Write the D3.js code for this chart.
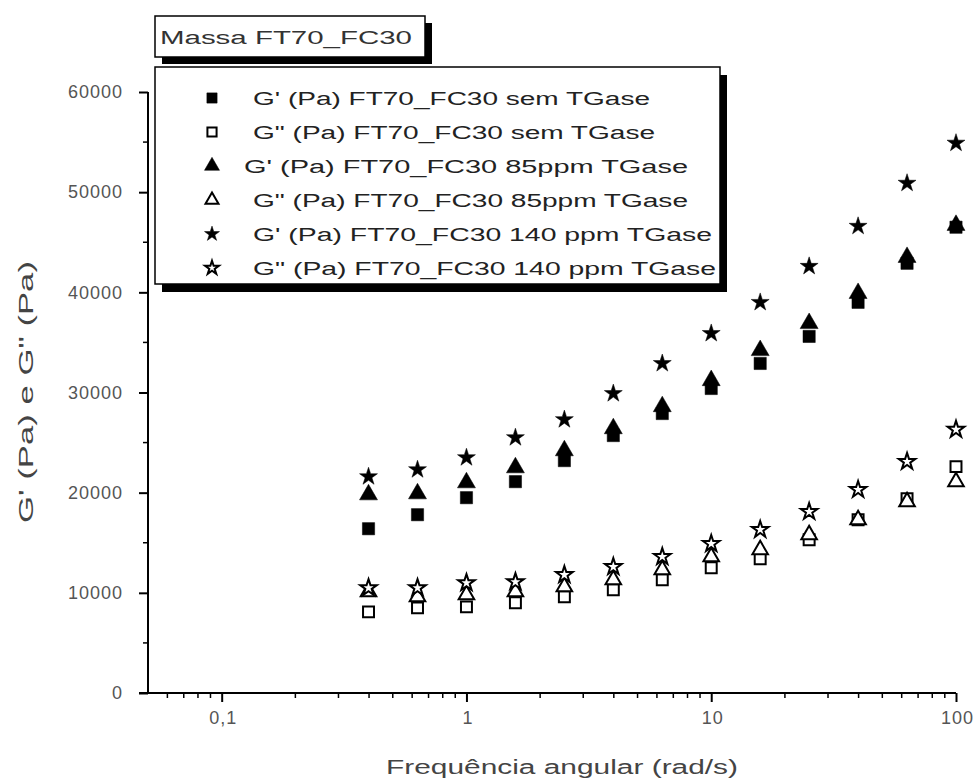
<!DOCTYPE html>
<html><head><meta charset="utf-8">
<script src="https://cdn.jsdelivr.net/npm/d3@7"></script>
<style>body{margin:0;background:#fff}svg{display:block}text{font-family:"Liberation Sans",Arial,sans-serif}</style>
</head><body><div id="chart"></div>
<script>
// ---- data ----
const freq     = [0.398, 0.631, 1, 1.585, 2.512, 3.981, 6.31, 10, 15.85, 25.12, 39.81, 63.1, 100];
const gpSem    = [16400, 17800, 19500, 21100, 23200, 25700, 27900, 30400, 32900, 35600, 39000, 42900, 46500];
const gppSem   = [8100, 8500, 8600, 9000, 9600, 10300, 11300, 12500, 13400, 15300, 17300, 19400, 22600];
const gp85     = [19800, 19900, 21000, 22500, 24200, 26400, 28600, 31200, 34200, 36900, 39900, 43500, 46700];
const gpp85    = [10100, 9600, 9800, 10100, 10600, 11300, 12300, 13600, 14300, 15800, 17300, 19100, 21100];
const gp140    = [21600, 22300, 23500, 25500, 27300, 29900, 32900, 35900, 39000, 42600, 46600, 50900, 54900];
const gpp140   = [10500, 10500, 11000, 11100, 11800, 12600, 13600, 14900, 16300, 18100, 20300, 23100, 26300];
const seriesNames = [
  "G' (Pa) FT70_FC30 sem TGase",
  'G" (Pa) FT70_FC30 sem TGase',
  "G' (Pa) FT70_FC30 85ppm TGase",
  'G" (Pa) FT70_FC30 85ppm TGase',
  "G' (Pa) FT70_FC30 140 ppm TGase",
  'G" (Pa) FT70_FC30 140 ppm TGase'
];
const seriesValues = [gpSem, gppSem, gp85, gpp85, gp140, gpp140];
const xTickValues = [0.1, 1, 10, 100];
const xTickLabels = ["0,1", "1", "10", "100"];
const yTickValues = [0, 10000, 20000, 30000, 40000, 50000, 60000];
const legendTitle = "Massa FT70_FC30";
const xTitle = "Frequência angular (rad/s)";
const yTitle = 'G\' (Pa) e G" (Pa)';

// ---- styles / layout ----
const W = 978, H = 783;
const shapes = [d3.symbolSquare, d3.symbolSquare, d3.symbolTriangle, d3.symbolTriangle, d3.symbolStar, d3.symbolStar];
const filled = [true, false, true, false, true, false];
const sizes  = [150, 120, 140, 105, 100, 85];

const svg = d3.select("#chart").append("svg").attr("width", W).attr("height", H);

const x = d3.scaleLog().domain([0.05, 100]).range([148, 956]);
const y = d3.scaleLinear().domain([0, 60000]).range([693, 92]);

// axes
const xAxis = d3.axisBottom(x)
  .tickValues(xTickValues).tickSize(9).tickFormat((d, i) => xTickLabels[i]);
const gx = svg.append("g").attr("transform", "translate(0,693)").call(xAxis);
gx.select(".domain").attr("d", `M${x.range()[0] - 9},0H${x.range()[1]}`);
// minor ticks
const minorX = [];
for (let e = -2; e <= 1; e++) for (let m = 2; m <= 9; m++) {
  const v = m * Math.pow(10, e);
  if (v > 0.05 && v < 100) minorX.push(v);
}
gx.selectAll(".minor").data(minorX).enter().append("line").attr("class", "minor")
  .attr("x1", d => x(d)).attr("x2", d => x(d)).attr("y1", 0).attr("y2", 5)
  .attr("stroke", "#000").attr("stroke-width", 1.5);

const yAxis = d3.axisLeft(y).tickValues(yTickValues).tickSize(9).tickFormat(d3.format("d"));
const gy = svg.append("g").attr("transform", "translate(148,0)").call(yAxis);
gy.select(".domain").attr("d", `M0,${y(60000)}V${y(0)}`);
gy.selectAll(".minor").data(d3.range(5000, 60000, 10000)).enter().append("line").attr("class", "minor")
  .attr("x1", 0).attr("x2", -5).attr("y1", d => y(d)).attr("y2", d => y(d))
  .attr("stroke", "#000").attr("stroke-width", 1.5);

[gx, gy].forEach(g => {
  g.attr("font-size", 18);
  g.select(".domain").attr("stroke", "#000").attr("stroke-width", 2);
  g.selectAll(".tick line").attr("stroke", "#000").attr("stroke-width", 2);
  g.selectAll(".tick text").attr("fill", "#555").style("font-size", "18px")
    .style("letter-spacing", "1px").attr("font-family", '"Liberation Sans",Arial,sans-serif');
});
gx.selectAll(".tick text").attr("y", 18).attr("dx", "1px");
gy.selectAll(".tick text").attr("x", -25);

// axis titles
svg.append("text").attr("x", 562).attr("y", 774).attr("text-anchor", "middle")
  .attr("font-size", 20).attr("fill", "#444").attr("textLength", 352).attr("lengthAdjust", "spacingAndGlyphs")
  .text(xTitle);
svg.append("text").attr("transform", "translate(33,392) rotate(-90)").attr("text-anchor", "middle")
  .attr("font-size", 20).attr("fill", "#444").attr("textLength", 262).attr("lengthAdjust", "spacingAndGlyphs")
  .text(yTitle);

// data points
const symGen = d3.symbol();
seriesValues.forEach((vals, si) => {
  svg.append("g").selectAll("path").data(vals).enter().append("path")
    .attr("transform", (d, i) => `translate(${x(freq[i])},${y(d)})`)
    .attr("d", symGen.type(shapes[si]).size(sizes[si])())
    .attr("fill", filled[si] ? "#000" : "#fff")
    .attr("stroke", "#000").attr("stroke-width", filled[si] ? 0.5 : 2);
});

// legend title box
const tb = {x: 155, y: 16, w: 270, h: 41};
svg.append("rect").attr("x", tb.x + 7).attr("y", tb.y + 7).attr("width", tb.w).attr("height", tb.h).attr("fill", "#000");
svg.append("rect").attr("x", tb.x).attr("y", tb.y).attr("width", tb.w).attr("height", tb.h)
  .attr("fill", "#fff").attr("stroke", "#000").attr("stroke-width", 1.5);
svg.append("text").attr("x", 160).attr("y", 44).attr("font-size", 18).attr("fill", "#333")
  .attr("textLength", 252).attr("lengthAdjust", "spacingAndGlyphs").text(legendTitle);

// legend box
const lb = {x: 155, y: 67, w: 565, h: 217};
svg.append("rect").attr("x", lb.x + 7).attr("y", lb.y + 8).attr("width", lb.w).attr("height", lb.h).attr("fill", "#000");
svg.append("rect").attr("x", lb.x).attr("y", lb.y).attr("width", lb.w).attr("height", lb.h)
  .attr("fill", "#fff").attr("stroke", "#000").attr("stroke-width", 1.5);
const rowY = [98, 132, 166, 200, 234, 268];
const textX = [253, 253, 244, 253, 253, 253];
const textW = [397, 402, 444, 435, 459, 463];
seriesNames.forEach((name, si) => {
  svg.append("path").attr("transform", `translate(212,${rowY[si]})`)
    .attr("d", d3.symbol().type(shapes[si]).size(sizes[si] * 0.7)())
    .attr("fill", filled[si] ? "#000" : "#fff").attr("stroke", "#000").attr("stroke-width", filled[si] ? 0.5 : 2);
  svg.append("text").attr("x", textX[si]).attr("y", rowY[si] + 7).attr("font-size", 18).attr("fill", "#222")
    .attr("textLength", textW[si]).attr("lengthAdjust", "spacingAndGlyphs").text(name);
});
</script></body></html>
